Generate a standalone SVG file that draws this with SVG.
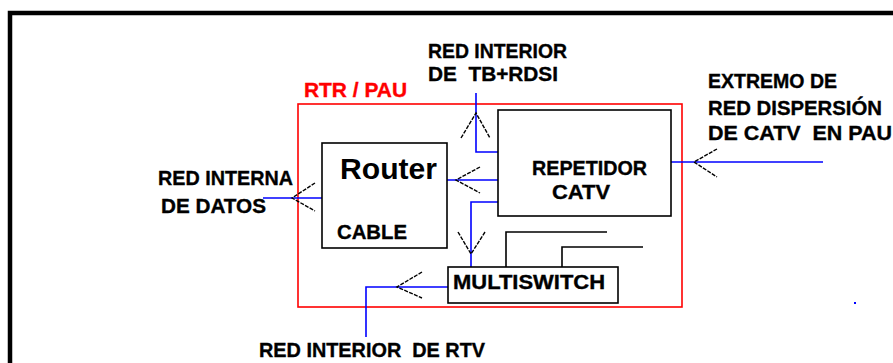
<svg xmlns="http://www.w3.org/2000/svg" width="893" height="363" viewBox="0 0 893 363">
<style>
.lbl{font-family:"Liberation Sans",Arial,sans-serif;font-weight:bold;font-size:20px;fill:#000;stroke:#000;stroke-width:0.35}
.box{fill:none;stroke:#000;stroke-width:1.6}
.wire{fill:none;stroke:#0000ff;stroke-width:1.6}
.arr{fill:none;stroke:#000;stroke-width:1.4;stroke-dasharray:4 1.3}
.blk{fill:none;stroke:#000;stroke-width:1.6}
</style>
<rect x="0" y="0" width="893" height="363" fill="#fff"/>
<path d="M10,363 V13 H893" fill="none" stroke="#000" stroke-width="4.5"/>
<g id="rtr-pau">
<rect x="298" y="104" width="384" height="203" fill="none" stroke="#ff0000" stroke-width="1.6"/>
<text class="lbl" x="304" y="97" style="fill:#ff0000;stroke:#ff0000" textLength="103" lengthAdjust="spacingAndGlyphs">RTR / PAU</text>
</g>
<g id="connectors">
<path class="wire" d="M476,93 V152 H498"/>
<path class="wire" d="M447,180 H498"/>
<path class="wire" d="M498,202 H471 V267"/>
<path class="wire" d="M448,287 H366 V337"/>
<path class="wire" d="M263,198 H322"/>
<path class="wire" d="M671,162 H823"/>
<polyline class="arr" points="461,138 476,113 490,138"/>
<polyline class="arr" points="480,167 456,180 480,193"/>
<polyline class="arr" points="458,232 471,254 485,232"/>
<polyline class="arr" points="422,272 397,287 422,298"/>
<polyline class="arr" points="315,183 292,198 315,211"/>
<polyline class="arr" points="717,149 694,162 717,177"/>
<path class="blk" d="M506,267 V232 H607"/>
<path class="blk" d="M562,267 V247 H643"/>
<rect x="854" y="302" width="2" height="2" fill="#0000ff"/>
</g>
<g id="router">
<rect class="box" x="322" y="143" width="125" height="105"/>
<text class="lbl" x="340" y="179" style="font-size:30px;stroke-width:0" textLength="97" lengthAdjust="spacingAndGlyphs">Router</text>
<text class="lbl" x="337" y="239" textLength="70" lengthAdjust="spacingAndGlyphs">CABLE</text>
</g>
<g id="repetidor">
<rect class="box" x="498" y="110" width="173" height="106"/>
<text class="lbl" x="532" y="175" textLength="115" lengthAdjust="spacingAndGlyphs">REPETIDOR</text>
<text class="lbl" x="552" y="199" textLength="58" lengthAdjust="spacingAndGlyphs">CATV</text>
</g>
<g id="multiswitch">
<rect class="box" x="448" y="267" width="170" height="36"/>
<text class="lbl" x="453" y="289" textLength="152" lengthAdjust="spacingAndGlyphs">MULTISWITCH</text>
</g>
<g id="red-interior-tb">
<text class="lbl" x="428" y="58" textLength="139" lengthAdjust="spacingAndGlyphs">RED INTERIOR</text>
<text class="lbl" x="428" y="81" xml:space="preserve" textLength="130" lengthAdjust="spacingAndGlyphs">DE  TB+RDSI</text>
</g>
<g id="extremo">
<text class="lbl" x="708" y="88" textLength="129" lengthAdjust="spacingAndGlyphs">EXTREMO DE</text>
<text class="lbl" x="708" y="115" textLength="174" lengthAdjust="spacingAndGlyphs">RED DISPERSIÓN</text>
<text class="lbl" x="708" y="140" xml:space="preserve" textLength="184" lengthAdjust="spacingAndGlyphs">DE CATV  EN PAU</text>
</g>
<g id="red-interna">
<text class="lbl" x="158" y="185" textLength="135" lengthAdjust="spacingAndGlyphs">RED INTERNA</text>
<text class="lbl" x="161" y="213" textLength="105" lengthAdjust="spacingAndGlyphs">DE DATOS</text>
</g>
<g id="red-interior-rtv">
<text class="lbl" x="259" y="357" xml:space="preserve" textLength="226" lengthAdjust="spacingAndGlyphs">RED INTERIOR  DE RTV</text>
</g>
</svg>
